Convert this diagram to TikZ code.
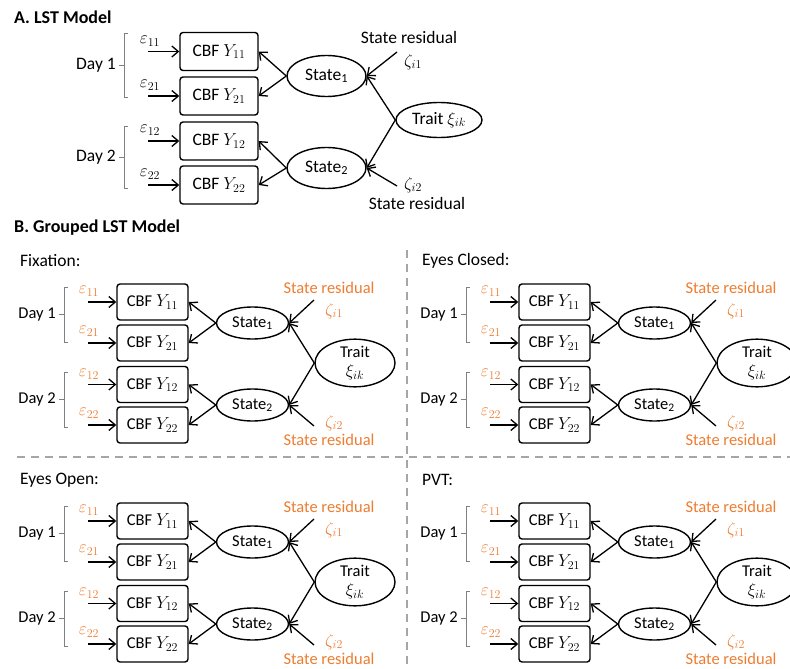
\documentclass[tikz,border=0pt]{standalone}
\usepackage{fontspec}
\setmainfont{Carlito}
\usetikzlibrary{arrows.meta,shapes.geometric}
\definecolor{resid}{HTML}{ED7D31}
\definecolor{dashgray}{HTML}{A6A6A6}
\begin{document}
\begin{tikzpicture}[x=1pt,y=-1pt,
  txtA/.style={font=\fontsize{17.5}{19}\selectfont, inner sep=0pt},
  txtB/.style={font=\fontsize{16.5}{18}\selectfont, inner sep=0pt},
  head/.style={font=\fontsize{18}{20}\selectfont\bfseries, inner sep=0pt, anchor=west},
  ttl/.style={font=\fontsize{17.5}{20}\selectfont, inner sep=0pt, anchor=west},
  orng/.style={text=resid},
  boxA/.style={txtA, draw, rounded corners=3pt, line width=1.4pt, minimum width=78pt, minimum height=38pt},
  boxB/.style={txtB, draw, rounded corners=3pt, line width=1.4pt, minimum width=71pt, minimum height=36pt},
  ellA/.style={txtA, ellipse, draw, line width=1.4pt, minimum width=79pt, minimum height=41pt},
  ellB/.style={txtB, ellipse, draw, line width=1.4pt, minimum width=72pt, minimum height=32pt},
  arr/.style={-{Straight Barb[length=6.5pt,width=11pt]}, line width=1.3pt},
  brk/.style={draw=gray, line width=0.8pt},
  sep/.style={draw=dashgray, line width=1.6pt, dash pattern=on 8pt off 6pt}
]
\useasboundingbox (0,0) rectangle (790,669);

% ---------------- Panel A ----------------
\node[head] (tA) at (14,17) {A. LST Model};
\node[boxA] (a11) at (219,51.5) {CBF $Y_{11}$};
\node[boxA] (a21) at (219,96) {CBF $Y_{21}$};
\node[boxA] (a12) at (219,141) {CBF $Y_{12}$};
\node[boxA] (a22) at (219,185) {CBF $Y_{22}$};
\node[ellA] (as1) at (326.5,76) {State\textsubscript{1}};
\node[ellA] (as2) at (326.5,168) {State\textsubscript{2}};
\node[txtA, ellipse, draw, line width=1.4pt, minimum width=86pt, minimum height=35pt] (atr) at (439,120) {Trait $\xi_{ik}$};

\coordinate (ae11) at (148,51.5);
\coordinate (ae21) at (148,96);
\coordinate (ae12) at (148,141);
\coordinate (ae22) at (148,185);
\node[txtA] (lae11) at (150,41) {$\varepsilon_{11}$};
\node[txtA] (lae21) at (150,85) {$\varepsilon_{21}$};
\node[txtA] (lae12) at (150,130) {$\varepsilon_{12}$};
\node[txtA] (lae22) at (150,174) {$\varepsilon_{22}$};
\draw[arr] (ae11) -- (a11);
\draw[arr] (ae21) -- (a21);
\draw[arr] (ae12) -- (a12);
\draw[arr] (ae22) -- (a22);

\draw[arr] (as1.west) -- (a11.east);
\draw[arr] (as1.west) -- (a21.east);
\draw[arr] (as2.west) -- (a12.east);
\draw[arr] (as2.west) -- (a22.east);
\draw[arr] (atr.west) -- (as1.east);
\draw[arr] (atr.west) -- (as2.east);

\coordinate (ar1) at (397,52);
\coordinate (ar2) at (397,186);
\draw[arr] (ar1) -- (as1.east);
\draw[arr] (ar2) -- (as2.east);
\node[txtA] (asr1) at (409,37) {State residual};
\node[txtA] (az1) at (413,62) {$\zeta_{i1}$};
\node[txtA] (az2) at (413,185) {$\zeta_{i2}$};
\node[txtA] (asr2) at (417,203) {State residual};

\node[txtA, anchor=east] (ad1) at (116,65) {Day 1};
\node[txtA, anchor=east] (ad2) at (116,157) {Day 2};
\draw[brk] (128,33) -- (124,33) -- (124,97) -- (128,97) (124,65) -- (119,65);
\draw[brk] (128,126) -- (124,126) -- (124,188) -- (128,188) (124,157) -- (119,157);

% ---------------- Panel B ----------------
\node[head] (tB) at (14,228) {B. Grouped LST Model};

\draw[sep] (17,457) -- (790,457);
\draw[sep] (407,250) -- (407,669);

\foreach \p/\ox/\oy/\ttltxt in {fx/0/0/Fixation:, ec/402/0/Eyes Closed:, eo/0/219/Eyes Open:, pv/402/219/PVT:}{
\begin{scope}[shift={(\ox,\oy)}]
  \node[ttl] (\p-t) at (20,261) {\ttltxt};
  \node[boxB] (\p-y11) at (152.5,302) {CBF $Y_{11}$};
  \node[boxB] (\p-y21) at (152.5,343) {CBF $Y_{21}$};
  \node[boxB] (\p-y12) at (152.5,384.5) {CBF $Y_{12}$};
  \node[boxB] (\p-y22) at (152.5,425) {CBF $Y_{22}$};
  \node[ellB] (\p-s1) at (252.5,323) {State\textsubscript{1}};
  \node[ellB] (\p-s2) at (252.5,405) {State\textsubscript{2}};
  \node[txtB, ellipse, draw, line width=1.4pt, minimum width=80pt, minimum height=36pt, align=center] (\p-tr) at (355,363) {Trait\\[1pt]$\xi_{ik}$};

  \coordinate (\p-e11) at (88,302);
  \coordinate (\p-e21) at (88,343);
  \coordinate (\p-e12) at (88,384.5);
  \coordinate (\p-e22) at (88,425);
  \node[txtB, orng] (\p-le11) at (89,291) {$\varepsilon_{11}$};
  \node[txtB, orng] (\p-le21) at (89,331) {$\varepsilon_{21}$};
  \node[txtB, orng] (\p-le12) at (89,374) {$\varepsilon_{12}$};
  \node[txtB, orng] (\p-le22) at (89,413) {$\varepsilon_{22}$};
  \draw[arr] (\p-e11) -- (\p-y11);
  \draw[arr] (\p-e21) -- (\p-y21);
  \draw[arr] (\p-e12) -- (\p-y12);
  \draw[arr] (\p-e22) -- (\p-y22);

  \draw[arr] (\p-s1.west) -- (\p-y11.east);
  \draw[arr] (\p-s1.west) -- (\p-y21.east);
  \draw[arr] (\p-s2.west) -- (\p-y12.east);
  \draw[arr] (\p-s2.west) -- (\p-y22.east);
  \draw[arr] (\p-tr.west) -- (\p-s1.east);
  \draw[arr] (\p-tr.west) -- (\p-s2.east);

  \coordinate (\p-r1) at (314,300);
  \coordinate (\p-r2) at (314,426);
  \draw[arr] (\p-r1) -- (\p-s1.east);
  \draw[arr] (\p-r2) -- (\p-s2.east);
  \node[txtB, orng] (\p-sr1) at (329,288) {State residual};
  \node[txtB, orng] (\p-z1) at (334,311) {$\zeta_{i1}$};
  \node[txtB, orng] (\p-z2) at (334,423) {$\zeta_{i2}$};
  \node[txtB, orng] (\p-sr2) at (329,440) {State residual};

  \node[txtB, anchor=east] (\p-d1) at (56,315) {Day 1};
  \node[txtB, anchor=east] (\p-d2) at (56,399.5) {Day 2};
  \draw[brk] (68,287) -- (64,287) -- (64,342) -- (68,342) (64,314.5) -- (59,314.5);
  \draw[brk] (68,372) -- (64,372) -- (64,427) -- (68,427) (64,399.5) -- (59,399.5);
\end{scope}
}
\end{tikzpicture}
\end{document}
